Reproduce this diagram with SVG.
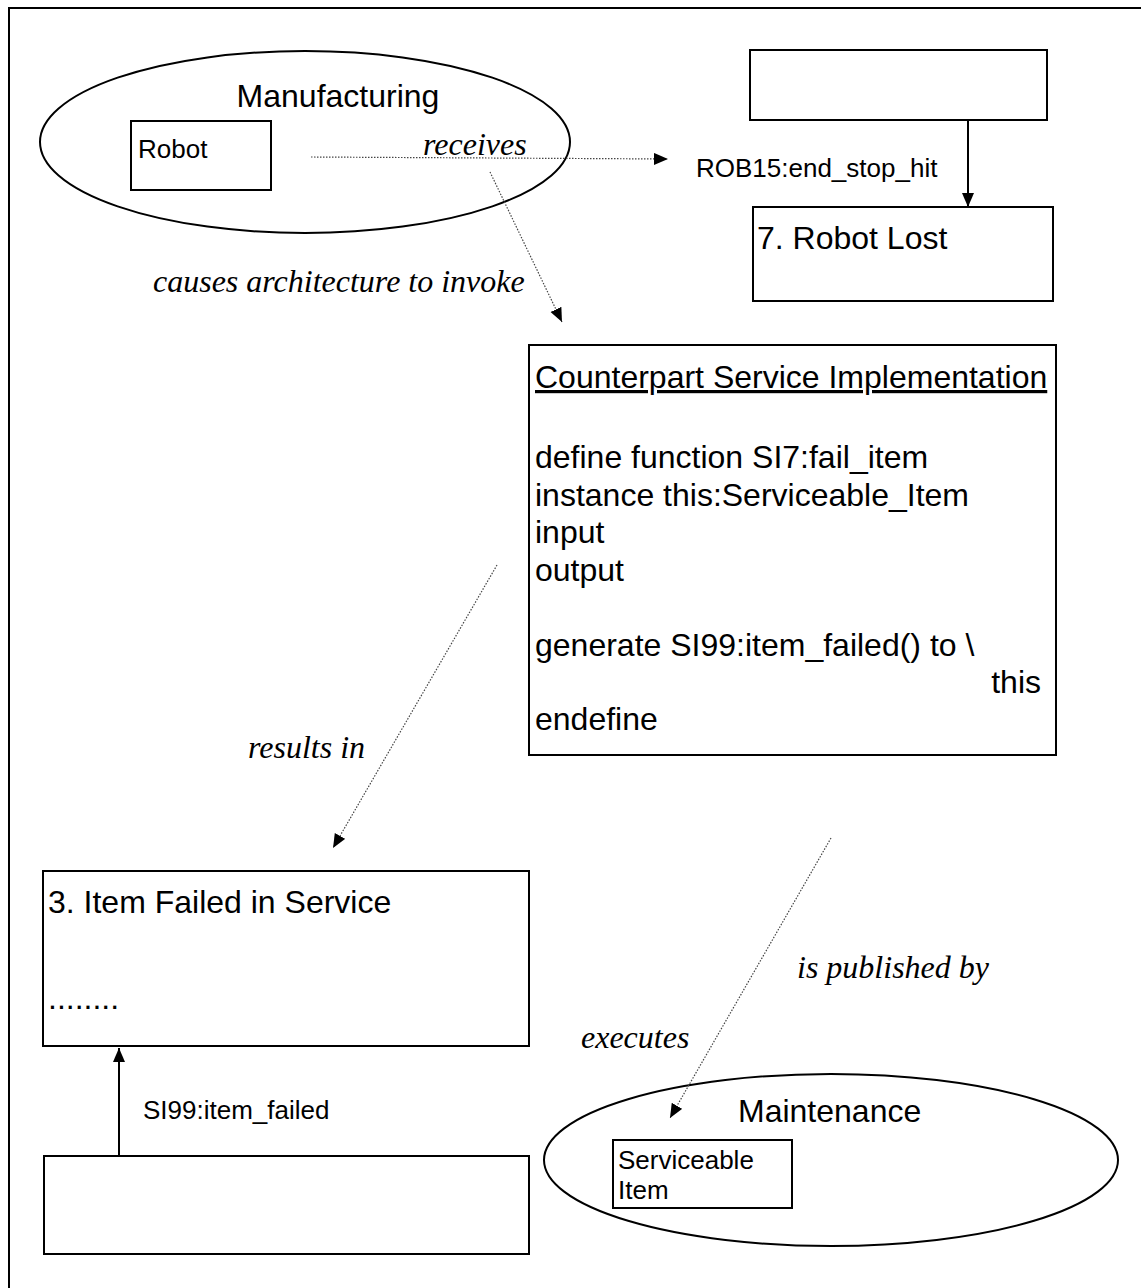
<svg xmlns="http://www.w3.org/2000/svg" width="1141" height="1288" viewBox="0 0 1141 1288">
<defs>
<marker id="ah" markerUnits="userSpaceOnUse" markerWidth="16" markerHeight="14" refX="14" refY="6" orient="auto">
<path d="M0,0 L14,6 L0,12 z" fill="#000"/>
</marker>
<style>
.box{fill:#fff;stroke:#000;stroke-width:2}
.ell{fill:none;stroke:#000;stroke-width:2}
.sans{font-family:"Liberation Sans",Arial,sans-serif;fill:#000}
.big{font-size:32px}
.small{font-size:26px}
.ital{font-family:"Liberation Serif","Times New Roman",serif;font-style:italic;font-size:32px;fill:#000}
.dot{stroke:#444;stroke-width:1.2;stroke-dasharray:1.5 1.5;fill:none}
.solid{stroke:#000;stroke-width:2;fill:none}
</style>
</defs>
<rect width="1141" height="1288" fill="#fff"/>
<path d="M9,1288 V8 H1141" fill="none" stroke="#000" stroke-width="2"/>

<g id="manufacturing">
<ellipse class="ell" cx="305" cy="142" rx="265" ry="91"/>
<text class="sans big" x="338" y="107" text-anchor="middle">Manufacturing</text>
</g>
<g id="robot">
<rect class="box" x="131" y="121" width="140" height="69"/>
<text class="sans small" x="138" y="158">Robot</text>
</g>
<g id="top-box">
<rect class="box" x="750" y="50" width="297" height="70"/>
</g>
<g id="robot-lost">
<rect class="box" x="753" y="207" width="300" height="94"/>
<text class="sans big" x="757" y="249">7. Robot Lost</text>
</g>
<g id="counterpart">
<rect class="box" x="529" y="345" width="527" height="410"/>
<text class="sans big" x="535" y="388" text-decoration="underline">Counterpart Service Implementation</text>
<text class="sans big" x="535" y="468">define function SI7:fail_item</text>
<text class="sans big" x="535" y="506">instance this:Serviceable_Item</text>
<text class="sans big" x="535" y="543">input</text>
<text class="sans big" x="535" y="581">output</text>
<text class="sans big" x="535" y="656">generate SI99:item_failed() to \</text>
<text class="sans big" x="1041" y="693" text-anchor="end">this</text>
<text class="sans big" x="535" y="730">endefine</text>
</g>
<g id="item-failed">
<rect class="box" x="43" y="871" width="486" height="175"/>
<text class="sans big" x="48" y="913">3. Item Failed in Service</text>
<text class="sans big" x="48" y="1009">........</text>
</g>
<g id="bottom-box">
<rect class="box" x="44" y="1156" width="485" height="98"/>
</g>
<g id="maintenance">
<ellipse class="ell" cx="831" cy="1160" rx="287" ry="86"/>
<text class="sans big" x="738" y="1122">Maintenance</text>
</g>
<g id="serviceable-item">
<rect class="box" x="613" y="1140" width="179" height="68"/>
<text class="sans small" x="618" y="1169">Serviceable</text>
<text class="sans small" x="618" y="1199">Item</text>
</g>

<g id="connectors">
<line class="dot" x1="311" y1="157" x2="668" y2="159" marker-end="url(#ah)"/>
<line class="solid" x1="968" y1="120" x2="968" y2="207" marker-end="url(#ah)"/>
<line class="dot" x1="490" y1="172" x2="562" y2="322" marker-end="url(#ah)"/>
<line class="dot" x1="497" y1="565" x2="333" y2="848" marker-end="url(#ah)"/>
<line class="solid" x1="119" y1="1156" x2="119" y2="1048" marker-end="url(#ah)"/>
<line class="dot" x1="831" y1="838" x2="670" y2="1118" marker-end="url(#ah)"/>
<text class="ital" x="423" y="155">receives</text>
<text class="sans small" x="696" y="177">ROB15:end_stop_hit</text>
<text class="ital" x="153" y="292">causes architecture to invoke</text>
<text class="ital" x="248" y="758">results in</text>
<text class="sans small" x="143" y="1119">SI99:item_failed</text>
<text class="ital" x="797" y="978">is published by</text>
<text class="ital" x="581" y="1048">executes</text>
</g>
</svg>
